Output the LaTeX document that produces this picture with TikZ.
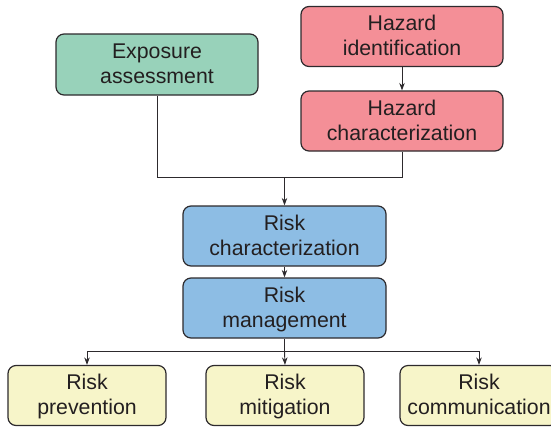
\documentclass[tikz,border=0pt]{standalone}
\usepackage{fontspec}
\setmainfont{Liberation Sans}
\usetikzlibrary{arrows.meta}
\definecolor{cgreen}{RGB}{152,210,186}
\definecolor{cred}{RGB}{244,143,151}
\definecolor{cblue}{RGB}{141,189,228}
\definecolor{cyellow}{RGB}{247,245,201}
\definecolor{cline}{RGB}{45,42,45}
\definecolor{ctext}{RGB}{35,31,32}
\newcommand{\topstrut}{\rule{0pt}{15.5pt}}
\newcommand{\botstrut}{\rule[-1.5pt]{0pt}{1.5pt}}
\tikzset{
  box/.style={draw=cline, line width=1.2pt, rounded corners=8pt, align=center,
    inner sep=0pt, text=ctext, font=\fontsize{21.3}{25}\selectfont,
    text depth=1.5pt},
  topbox/.style={box, minimum width=202pt, minimum height=60pt},
  botbox/.style={box, fill=cyellow, minimum width=158pt, minimum height=60pt},
  conn/.style={draw=cline, line width=0.95pt},
  arr/.style={conn, -{Stealth[length=7.5pt,width=5.5pt]}}
}
\begin{document}
\begin{tikzpicture}[x=1pt,y=-1pt]
\useasboundingbox (0,0) rectangle (551,426);
\begin{scope}
\clip (0,0) rectangle (551,426);
\node[topbox, fill=cgreen, minimum height=61pt] (ea) at (157,64.5) {Exposure\\assessment};
\node[topbox, fill=cred] (hi) at (402,36.5) {Hazard\\identification};
\node[topbox, fill=cred] (hc) at (402,121) {Hazard\\characterization};
\node[topbox, fill=cblue, minimum width=203pt] (rc) at (284.5,236) {Risk\\characterization};
\node[topbox, fill=cblue, minimum width=203pt] (rm) at (284.5,308) {Risk\\management};
\node[botbox] (rp) at (87,395.5) {Risk\\prevention};
\node[botbox] (rmi) at (285,395.5) {Risk\\mitigation};
\node[botbox] (rco) at (479,395.5) {Risk\\communication};
\coordinate (m) at (284.5,177);
\coordinate (b) at (284.5,351);
\draw[arr] (hi.south) -- (hc.north);
\draw[conn] (ea.south) |- (m);
\draw[conn] (hc.south) |- (m);
\draw[arr] (m) -- (rc.north);
\draw[arr] (rc.south) -- (rm.north);
\draw[conn] (rm.south) -- (b);
\draw[arr] (b) -| (rp.north);
\draw[arr] (b) -- (rmi.north);
\draw[arr] (b) -| (rco.north);
\end{scope}
\end{tikzpicture}
\end{document}
